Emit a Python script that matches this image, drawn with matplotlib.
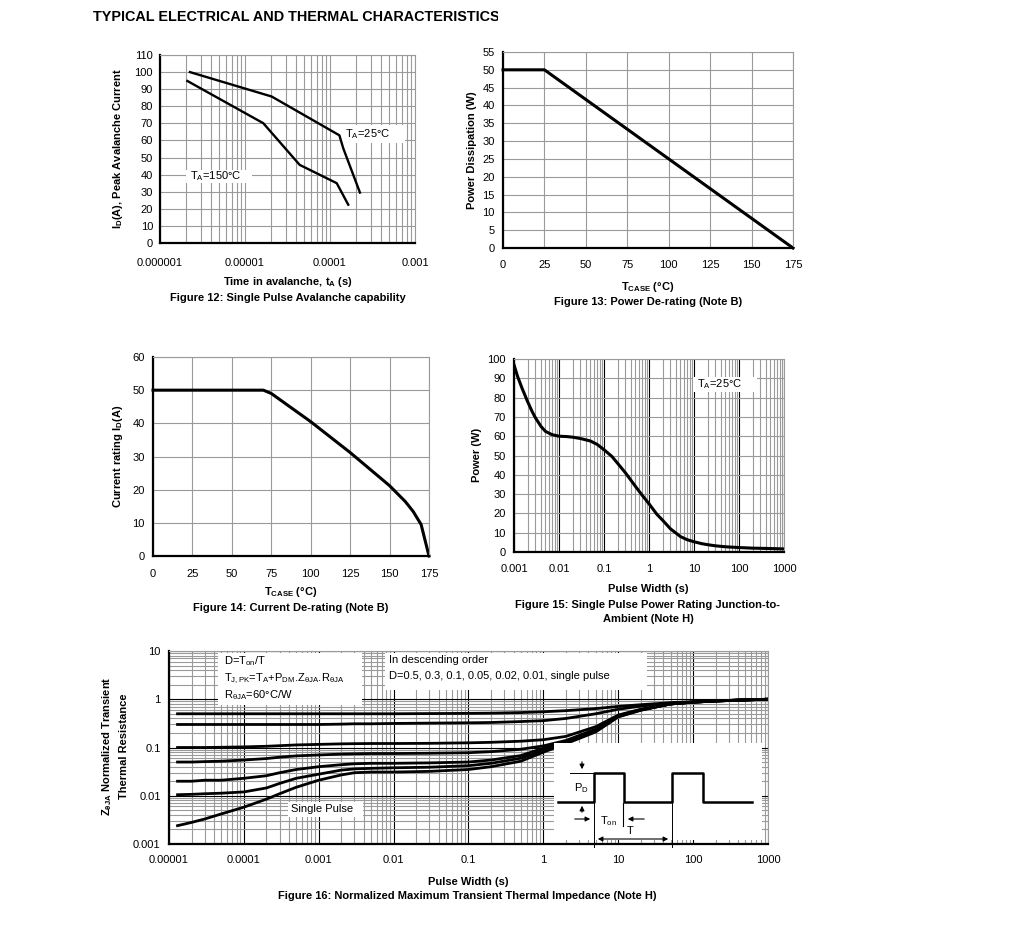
import numpy as np
import matplotlib
matplotlib.use("Agg")
import matplotlib.pyplot as plt
import matplotlib.ticker as mticker
from matplotlib.patches import Rectangle
from matplotlib.transforms import Bbox, TransformedBbox

plt.rcParams['font.family'] = ['Liberation Sans', 'DejaVu Sans']
plt.rcParams['mathtext.fontset'] = 'custom'
plt.rcParams['mathtext.rm'] = 'Liberation Sans'
plt.rcParams['mathtext.it'] = 'Liberation Sans:italic'
plt.rcParams['mathtext.bf'] = 'Liberation Sans:bold'

# ------------------------------------------------------------
# Dados lidos do datasheet

# Figura 12 - avalanche
t_av_25 = [2.25e-6, 2.06e-5, 1.29e-4, 1.43e-4, 2.25e-4]
i_av_25 = [100, 85.7, 63, 55.5, 29.5]
t_av_150 = [2.1e-6, 1.64e-5, 4.4e-5, 1.2e-4, 1.64e-4]
i_av_150 = [94.8, 70.1, 45.7, 35, 22.4]
x12_ticks = [1e-6, 1e-5, 1e-4, 1e-3]
x12_labels = ["0.000001", "0.00001", "0.0001", "0.001"]

# Figura 13 - power de-rating
tc_13 = [0, 25, 175]
pd_13 = [50, 50, 0]

# Figura 14 - current de-rating
tc_14 = [0, 70, 75, 100, 125, 150, 160, 165, 170, 175]
id_14 = [50, 50, 49, 40.5, 31.2, 21.2, 16.4, 13.4, 9.5, 0]

# Figura 15 - single pulse power
t_15 = [0.001, 0.0012, 0.0015, 0.002, 0.0025, 0.003, 0.004, 0.005, 0.007, 0.01,
        0.015, 0.02, 0.03, 0.05, 0.07, 0.1, 0.15, 0.2, 0.3, 0.5, 0.7, 1,
        1.5, 2, 3, 5, 7, 10, 15, 20, 30, 50, 100, 200, 500, 1000]
p_15 = [97, 91, 85, 78, 73, 69.5, 65, 62.5, 60.8, 60,
        59.8, 59.5, 58.8, 57.5, 55.8, 53, 49.5, 46, 41, 34, 29.5, 25,
        19.5, 16.5, 12, 8, 6.4, 5.3, 4.3, 3.8, 3.2, 2.7, 2.3, 2.0, 1.8, 1.6]
x15_ticks = [0.001, 0.01, 0.1, 1, 10, 100, 1000]
x15_labels = ["0.001", "0.01", "0.1", "1", "10", "100", "1000"]

# Figura 16 - transient thermal impedance
t_16 = [1.3e-5, 2e-5, 3e-5, 5e-5, 1e-4, 2e-4, 3e-4, 5e-4, 1e-3, 2e-3, 3e-3, 5e-3, 1e-2,
        3e-2, 0.1, 0.2, 0.5, 1, 2, 5, 10, 20, 50, 100, 200, 500, 1000]
z_d05 = [0.5, 0.5, 0.5, 0.5, 0.5, 0.5, 0.5, 0.5, 0.5, 0.5, 0.5, 0.5, 0.5,
         0.505, 0.51, 0.515, 0.53, 0.55, 0.58, 0.64, 0.71, 0.77, 0.85, 0.89, 0.93, 0.97, 1.0]
z_d03 = [0.3, 0.3, 0.3, 0.3, 0.3, 0.3, 0.3, 0.3, 0.3, 0.305, 0.31, 0.31, 0.315,
         0.32, 0.325, 0.33, 0.345, 0.36, 0.4, 0.5, 0.62, 0.72, 0.83, 0.88, 0.93, 0.97, 1.0]
z_d01 = [0.1, 0.1, 0.1, 0.101, 0.103, 0.106, 0.109, 0.113, 0.116, 0.119, 0.12, 0.121, 0.121,
         0.122, 0.125, 0.128, 0.135, 0.145, 0.17, 0.27, 0.47, 0.62, 0.8, 0.87, 0.92, 0.97, 1.0]
z_d005 = [0.05, 0.05, 0.051, 0.052, 0.055, 0.059, 0.063, 0.067, 0.07, 0.073, 0.074, 0.075, 0.075,
          0.076, 0.078, 0.082, 0.092, 0.108, 0.14, 0.24, 0.46, 0.61, 0.8, 0.87, 0.92, 0.97, 1.0]
z_d002 = [0.02, 0.02, 0.021, 0.021, 0.023, 0.026, 0.03, 0.035, 0.04, 0.044, 0.046, 0.047, 0.047,
          0.048, 0.05, 0.055, 0.068, 0.097, 0.13, 0.23, 0.45, 0.6, 0.8, 0.87, 0.92, 0.97, 1.0]
z_d001 = [0.0105, 0.0107, 0.011, 0.0113, 0.012, 0.0145, 0.018, 0.023, 0.028, 0.034, 0.036, 0.037, 0.038,
          0.039, 0.042, 0.047, 0.06, 0.088, 0.125, 0.22, 0.44, 0.6, 0.8, 0.87, 0.92, 0.97, 1.0]
z_single = [0.0024, 0.0028, 0.0033, 0.0042, 0.0058, 0.0085, 0.011, 0.015, 0.021, 0.027, 0.03, 0.031, 0.031,
            0.032, 0.035, 0.04, 0.052, 0.08, 0.12, 0.21, 0.43, 0.59, 0.8, 0.87, 0.92, 0.97, 1.0]
curvas_16 = [z_d05, z_d03, z_d01, z_d005, z_d002, z_d001, z_single]
x16_ticks = [1e-5, 1e-4, 1e-3, 1e-2, 0.1, 1, 10, 100, 1000]
x16_labels = ["0.00001", "0.0001", "0.001", "0.01", "0.1", "1", "10", "100", "1000"]
y16_ticks = [0.001, 0.01, 0.1, 1, 10]
y16_labels = ["0.001", "0.01", "0.1", "1", "10"]

# esquema do pulso (desenho, em pixels da figura)
pulso_x = [558, 594, 594, 624, 624, 672, 672, 703, 703, 752]
pulso_y = [802, 802, 773, 773, 802, 802, 773, 773, 802, 802]

# ------------------------------------------------------------
W, H = 1020, 930
CINZA = "#9a9a9a"

fig = plt.figure(figsize=(W / 100, H / 100), dpi=100)


def eixo(l, t, r, b):
    return fig.add_axes([l / W, 1 - b / H, (r - l) / W, (b - t) / H])


def fx(x):
    return x / W


def fy(y):
    return 1 - y / H


def texto(x, y, s, **kw):
    kw.setdefault('fontsize', 8)
    kw.setdefault('ha', 'center')
    kw.setdefault('va', 'center')
    return fig.text(fx(x), fy(y), s, **kw)


def caixa(ax, l, t, r, b):
    ax.add_patch(Rectangle((fx(l), fy(b)), (r - l) / W, (b - t) / H,
                           transform=fig.transFigure, facecolor='white',
                           edgecolor='none', zorder=1.5))


def estilo(ax, xpad, ypad=5):
    ax.set_axisbelow(True)
    ax.tick_params(which='both', length=0, labelsize=8)
    ax.tick_params(axis='x', pad=xpad)
    ax.tick_params(axis='y', pad=ypad)
    for s in ['left', 'bottom']:
        ax.spines[s].set_color('black')
        ax.spines[s].set_linewidth(1.6)
    for s in ['top', 'right']:
        ax.spines[s].set_color(CINZA)
        ax.spines[s].set_linewidth(0.8)


def log_x(ax, ticks, labels):
    ax.set_xscale('log')
    ax.set_xticks(ticks)
    ax.set_xticklabels(labels)
    ax.xaxis.set_minor_locator(mticker.LogLocator(base=10, subs=np.arange(2, 10)))
    ax.xaxis.set_minor_formatter(mticker.NullFormatter())


# cabeçalho
cab = texto(93, 17, "TYPICAL ELECTRICAL AND THERMAL CHARACTERISTICS",
            ha='left', fontsize=10.4, fontweight='bold')
cab.set_clip_box(TransformedBbox(Bbox([[0, 0], [fx(498), 1]]), fig.transFigure))
cab.set_clip_on(True)

# ------------------------------------------------------------
# Figura 12
ax12 = eixo(160, 55, 415, 243)
estilo(ax12, xpad=11)
log_x(ax12, x12_ticks, x12_labels)
ax12.set_xlim(1e-6, 1e-3)
ax12.set_ylim(0, 110)
ax12.set_yticks(range(0, 111, 10))
ax12.grid(True, which='both', axis='x', color=CINZA, lw=0.8)
ax12.grid(True, which='major', axis='y', color=CINZA, lw=0.8)
ax12.plot(t_av_25, i_av_25, color='black', lw=1.7, zorder=2)
ax12.plot(t_av_150, i_av_150, color='black', lw=1.7, zorder=2)
caixa(ax12, 340, 125, 405, 143)
caixa(ax12, 186, 170, 252, 183)
texto(345, 134, r"T$_\mathrm{A}$=25°C", ha='left', zorder=3)
texto(190, 176, r"T$_\mathrm{A}$=150°C", ha='left', zorder=3)
texto(118, 149, r"I$_\mathbf{D}$(A), Peak Avalanche Current", rotation=90, fontweight='bold')
texto(288, 282, r"Time in avalanche, t$_\mathbf{A}$ (s)", fontweight='bold')
texto(288, 298, "Figure 12: Single Pulse Avalanche capability", fontweight='bold')

# ------------------------------------------------------------
# Figura 13
ax13 = eixo(503, 52, 793, 248)
estilo(ax13, xpad=9, ypad=6)
ax13.set_xlim(0, 175)
ax13.set_ylim(0, 55)
ax13.set_xticks(range(0, 176, 25))
ax13.set_yticks(range(0, 56, 5))
ax13.grid(True, color=CINZA, lw=0.8)
ax13.plot(tc_13, pd_13, color='black', lw=2.2, zorder=2, clip_on=False)
texto(472, 150, "Power Dissipation (W)", rotation=90, fontweight='bold')
texto(648, 287, r"T$_\mathbf{CASE}$ (°C)", fontweight='bold')
texto(648, 302, "Figure 13: Power De-rating (Note B)", fontweight='bold')

# ------------------------------------------------------------
# Figura 14
ax14 = eixo(153, 357, 429, 556)
estilo(ax14, xpad=9, ypad=6)
ax14.set_xlim(0, 175)
ax14.set_ylim(0, 60)
ax14.set_xticks(range(0, 176, 25))
ax14.set_yticks(range(0, 61, 10))
ax14.grid(True, color=CINZA, lw=0.8)
ax14.plot(tc_14, id_14, color='black', lw=2.2, zorder=2, clip_on=False)
texto(118, 456, r"Current rating I$_\mathbf{D}$(A)", rotation=90, fontweight='bold')
texto(291, 592, r"T$_\mathbf{CASE}$ (°C)", fontweight='bold')
texto(291, 608, "Figure 14: Current De-rating (Note B)", fontweight='bold')

# ------------------------------------------------------------
# Figura 15
ax15 = eixo(514, 359, 784, 552)
estilo(ax15, xpad=9, ypad=6)
log_x(ax15, x15_ticks, x15_labels)
ax15.set_xlim(0.001, 1000)
ax15.set_ylim(0, 100)
ax15.set_yticks(range(0, 101, 10))
ax15.grid(True, which='major', axis='x', color='black', lw=0.8)
ax15.grid(True, which='minor', axis='x', color=CINZA, lw=0.8)
ax15.grid(True, which='major', axis='y', color=CINZA, lw=0.8)
ax15.plot(t_15, p_15, color='black', lw=2.2, zorder=2)
caixa(ax15, 693, 377, 757, 392)
texto(697, 384, r"T$_\mathrm{A}$=25°C", ha='left', zorder=3)
texto(477, 455, "Power (W)", rotation=90, fontweight='bold')
texto(648, 589, "Pulse Width (s)", fontweight='bold')
texto(648, 605, "Figure 15: Single Pulse Power Rating Junction-to-", fontweight='bold')
texto(648, 619, "Ambient (Note H)", fontweight='bold')

# ------------------------------------------------------------
# Figura 16
ax16 = eixo(169, 651, 768, 844)
estilo(ax16, xpad=8, ypad=6)
log_x(ax16, x16_ticks, x16_labels)
ax16.set_yscale('log')
ax16.set_yticks(y16_ticks)
ax16.set_yticklabels(y16_labels)
ax16.yaxis.set_minor_locator(mticker.LogLocator(base=10, subs=np.arange(2, 10)))
ax16.yaxis.set_minor_formatter(mticker.NullFormatter())
ax16.set_xlim(1e-5, 1000)
ax16.set_ylim(0.001, 10)
ax16.grid(True, which='major', color='black', lw=0.8)
ax16.grid(True, which='minor', color=CINZA, lw=0.8)
for z in curvas_16:
    ax16.plot(t_16, z, color='black', lw=2, zorder=2)
caixa(ax16, 218, 653, 362, 705)
caixa(ax16, 385, 653, 647, 690)
caixa(ax16, 288, 802, 363, 817)
texto(224, 661, r"D=T$_\mathrm{on}$/T", ha='left', zorder=3)
texto(224, 679, r"T$_\mathrm{J,PK}$=T$_\mathrm{A}$+P$_\mathrm{DM}$.Z$_\mathrm{θJA}$.R$_\mathrm{θJA}$",
      ha='left', zorder=3)
texto(224, 695, r"R$_\mathrm{θJA}$=60°C/W", ha='left', zorder=3)
texto(389, 660, "In descending order", ha='left', zorder=3)
texto(389, 676, "D=0.5, 0.3, 0.1, 0.05, 0.02, 0.01, single pulse", ha='left', zorder=3)
texto(291, 809, "Single Pulse", ha='left', zorder=3)
texto(107, 746, r"Z$_\mathbf{θJA}$ Normalized Transient", rotation=90, fontweight='bold')
texto(124, 746, "Thermal Resistance", rotation=90, fontweight='bold')
texto(468, 882, "Pulse Width (s)", fontweight='bold')
texto(467, 896, "Figure 16: Normalized Maximum Transient Thermal Impedance (Note H)",
      fontweight='bold')

# inset com o esquema do pulso
ins = eixo(554, 743, 762, 840)
ins.set_zorder(1)
ins.set_facecolor('white')
ins.set_xlim(554, 762)
ins.set_ylim(840, 743)
ins.set_xticks([])
ins.set_yticks([])
for s in ins.spines.values():
    s.set_visible(False)
ins.plot(pulso_x, pulso_y, color='black', lw=1.8, clip_on=False)
ins.plot([570, 594], [773, 773], color='black', lw=0.7, clip_on=False)
ins.plot([594, 594], [773, 847], color='black', lw=0.7, clip_on=False)
ins.plot([672, 672], [802, 847], color='black', lw=0.7, clip_on=False)
ins.plot([623, 623], [803, 826], color='black', lw=0.8, clip_on=False)
seta = dict(arrowstyle='-|>', lw=0.8, color='black', mutation_scale=7)
ins.annotate('', xy=(582, 772), xytext=(582, 759), arrowprops=seta)
ins.annotate('', xy=(582, 803), xytext=(582, 815), arrowprops=seta)
ins.annotate('', xy=(593, 819), xytext=(572, 819), arrowprops=seta)
ins.annotate('', xy=(625, 819), xytext=(647, 819), arrowprops=seta)
ins.annotate('', xy=(671, 839), xytext=(595, 839),
             arrowprops=dict(arrowstyle='<|-|>', lw=0.8, color='black', mutation_scale=7))
ins.text(581, 788, r"P$_\mathrm{D}$", ha='center', va='center', fontsize=8)
ins.text(608, 821, r"T$_\mathrm{on}$", ha='center', va='center', fontsize=8)
ins.text(630, 831, "T", ha='center', va='center', fontsize=8)

fig.savefig("out.png", dpi=100)
